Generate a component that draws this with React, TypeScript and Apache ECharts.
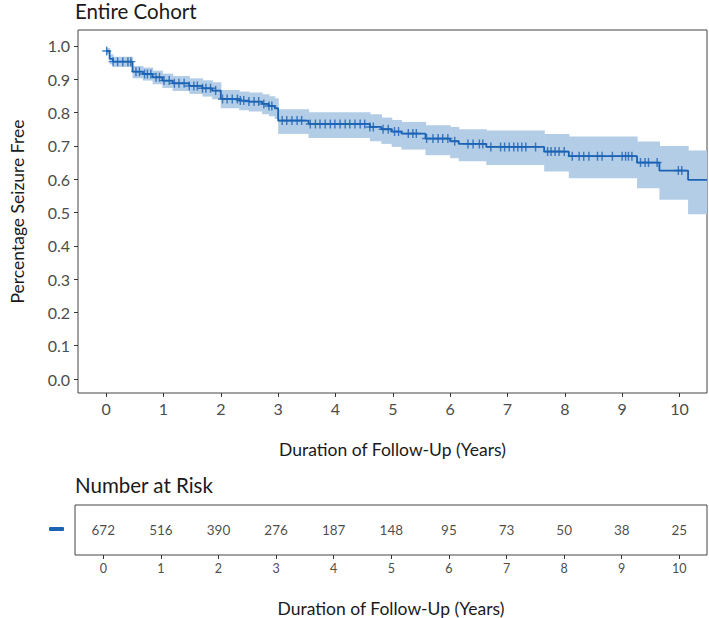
import React, { useEffect, useRef } from "react";
import * as echarts from "echarts";

// Kaplan-Meier step estimates (time in years)
const stepTimes = [0, 0.06, 0.12, 0.46, 0.64, 0.81, 0.98, 1.16, 1.45, 1.68, 1.85, 2.0, 2.32, 2.49, 2.72, 2.84, 2.94, 3.0, 3.53, 4.6, 4.8, 4.98, 5.15, 5.57, 6.0, 6.15, 6.63, 7.64, 8.07, 9.26, 9.65, 10.15];
const survival = [0.985, 0.961, 0.953, 0.923, 0.916, 0.906, 0.896, 0.888, 0.88, 0.873, 0.866, 0.841, 0.836, 0.833, 0.826, 0.82, 0.813, 0.776, 0.766, 0.757, 0.75, 0.743, 0.737, 0.722, 0.714, 0.706, 0.697, 0.683, 0.669, 0.65, 0.626, 0.598];
const lowerCI = [0.976, 0.945, 0.937, 0.903, 0.896, 0.885, 0.874, 0.865, 0.856, 0.848, 0.84, 0.813, 0.807, 0.803, 0.795, 0.789, 0.781, 0.736, 0.724, 0.714, 0.706, 0.697, 0.689, 0.672, 0.663, 0.654, 0.643, 0.623, 0.603, 0.573, 0.538, 0.495];
const upperCI = [0.994, 0.975, 0.968, 0.94, 0.935, 0.926, 0.917, 0.91, 0.903, 0.897, 0.891, 0.868, 0.863, 0.86, 0.855, 0.849, 0.843, 0.81, 0.801, 0.795, 0.785, 0.778, 0.772, 0.762, 0.757, 0.75, 0.746, 0.736, 0.728, 0.713, 0.7, 0.686];

// Censoring times
const censorTimes = [0.01, 0.12, 0.2, 0.29, 0.38, 0.43, 0.52, 0.58, 0.67, 0.72, 0.78, 0.87, 0.93, 1.01, 1.1, 1.19, 1.27, 1.36, 1.45, 1.53, 1.59, 1.68, 1.74, 1.82, 1.91, 2.03, 2.11, 2.2, 2.29, 2.34, 2.4, 2.49, 2.58, 2.66, 2.75, 2.84, 2.89, 3.07, 3.15, 3.24, 3.33, 3.41, 3.56, 3.65, 3.73, 3.82, 3.91, 3.99, 4.08, 4.17, 4.25, 4.34, 4.43, 4.51, 4.6, 4.66, 4.83, 4.92, 5.03, 5.1, 5.27, 5.35, 5.41, 5.59, 5.7, 5.79, 5.87, 5.96, 6.08, 6.31, 6.4, 6.51, 6.57, 6.71, 6.88, 6.95, 7.03, 7.11, 7.18, 7.25, 7.32, 7.49, 7.7, 7.76, 7.83, 7.9, 7.99, 8.13, 8.25, 8.33, 8.42, 8.57, 8.65, 8.83, 9.0, 9.06, 9.11, 9.17, 9.32, 9.4, 9.46, 9.61, 9.98, 10.04];

// Number at risk table
const riskTimes = [0, 1, 2, 3, 4, 5, 6, 7, 8, 9, 10];
const riskCounts = [672, 516, 390, 276, 187, 148, 95, 73, 50, 38, 25];

// Axis ticks
const xTicks = [0, 1, 2, 3, 4, 5, 6, 7, 8, 9, 10];
const yTicks = [0, 0.1, 0.2, 0.3, 0.4, 0.5, 0.6, 0.7, 0.8, 0.9, 1.0];

const X_MIN = -0.491;
const X_MAX = 10.48;
const Y_MIN = -0.042;
const Y_MAX = 1.048;

const LINE = "#1b63b4";
const BAND = "#b4cde6";
const FONT = "Lato";

function survAt(t: number): number {
  let s = survival[0];
  for (let i = 0; i < stepTimes.length; i++) {
    if (stepTimes[i] <= t) s = survival[i];
  }
  return s;
}

const PLUS = "path://M4.2,0 H5.8 V4.2 H10 V5.8 H5.8 V10 H4.2 V5.8 H0 V4.2 H4.2 Z";

export default function App() {
  const ref = useRef<HTMLDivElement>(null);
  useEffect(() => {
    if (!ref.current) return;
    const chart = echarts.init(ref.current, undefined, { renderer: "svg" });
    const n = stepTimes.length;
    const ends = [...stepTimes.slice(1), X_MAX];
    const bandRows = stepTimes.map((t, i) => [t, ends[i], lowerCI[i], upperCI[i]]);
    const lineData = [...stepTimes.map((t, i) => [t, survival[i]]), [X_MAX, survival[n - 1]]];

    const axisLabelBase = { color: "#4d4d4d", fontFamily: FONT };
    const titleStyle = { fontSize: 20.5, fontWeight: "normal", color: "#1a1a1a", fontFamily: FONT };
    const nameStyle = { fontSize: 17.5, color: "#1a1a1a", fontFamily: FONT };
    const noLine = { show: false, onZero: false };

    chart.setOption({
      animation: false,
      textStyle: { fontFamily: FONT },
      title: [
        { text: "Entire Cohort", left: 75, top: 0, padding: 0, textStyle: titleStyle },
        { text: "Number at Risk", left: 75, top: 474, padding: 0, textStyle: titleStyle },
      ],
      grid: [
        { left: 75, top: 30, width: 632, height: 363, show: true, borderColor: "#444", borderWidth: 1, backgroundColor: "#fff" },
        { left: 75, top: 505, width: 632, height: 50, show: true, borderColor: "#444", borderWidth: 1, backgroundColor: "#fff" },
      ],
      xAxis: [
        {
          type: "value", gridIndex: 0, min: X_MIN, max: X_MAX, position: "bottom",
          axisLine: noLine,
          splitLine: { show: false },
          axisTick: { show: true, length: 4, lineStyle: { color: "#333" }, customValues: xTicks },
          axisLabel: { ...axisLabelBase, fontSize: 16, margin: 7, customValues: xTicks, formatter: (v: number) => String(v) },
          name: "Duration of Follow-Up (Years)", nameLocation: "middle", nameGap: 47,
          nameTextStyle: nameStyle,
        },
        {
          type: "value", gridIndex: 1, min: X_MIN, max: X_MAX, position: "bottom",
          axisLine: noLine,
          splitLine: { show: false },
          axisTick: { show: true, length: 4, lineStyle: { color: "#333" }, customValues: xTicks },
          axisLabel: { ...axisLabelBase, fontSize: 12.5, margin: 7, customValues: xTicks, formatter: (v: number) => String(v) },
          name: "Duration of Follow-Up (Years)", nameLocation: "middle", nameGap: 44,
          nameTextStyle: nameStyle,
        },
      ],
      yAxis: [
        {
          type: "value", gridIndex: 0, min: Y_MIN, max: Y_MAX, position: "left",
          axisLine: noLine,
          splitLine: { show: false },
          axisTick: { show: true, length: 4, lineStyle: { color: "#333" }, customValues: yTicks },
          axisLabel: { ...axisLabelBase, fontSize: 16, margin: 8, customValues: yTicks, formatter: (v: number) => v.toFixed(1) },
          name: "Percentage Seizure Free", nameLocation: "middle", nameGap: 52, nameRotate: 90,
          nameTextStyle: nameStyle,
        },
        {
          type: "value", gridIndex: 1, min: 0, max: 1, position: "left",
          axisLine: noLine, splitLine: { show: false },
          axisTick: { show: false }, axisLabel: { show: false },
        },
      ],
      graphic: [
        { type: "rect", left: 49, top: 527, shape: { width: 15, height: 4, r: 1 }, style: { fill: LINE } },
      ],
      series: [
        {
          name: "ci", type: "custom", xAxisIndex: 0, yAxisIndex: 0, silent: true, z: 1,
          clip: true,
          data: bandRows,
          renderItem: (params: any, api: any) => {
            const p0 = api.coord([api.value(0), api.value(3)]);
            const p1 = api.coord([api.value(1), api.value(2)]);
            const isLast = params.dataIndex === n - 1;
            return {
              type: "rect",
              shape: { x: p0[0], y: p0[1], width: p1[0] - p0[0] + (isLast ? 0 : 0.6), height: p1[1] - p0[1] },
              style: { fill: BAND },
            };
          },
        },
        {
          name: "survival", type: "line", xAxisIndex: 0, yAxisIndex: 0, step: "end", z: 3,
          symbol: "none", lineStyle: { width: 1.8, color: LINE },
          data: lineData,
        },
        {
          name: "censor", type: "scatter", xAxisIndex: 0, yAxisIndex: 0, z: 4,
          symbol: PLUS, symbolSize: 9, itemStyle: { color: LINE },
          data: censorTimes.map((t) => [t, survAt(t)]),
        },
        {
          name: "risk", type: "scatter", xAxisIndex: 1, yAxisIndex: 1,
          symbolSize: 1, itemStyle: { color: "rgba(0,0,0,0)" },
          label: { show: true, position: "inside", fontSize: 13.5, color: "#1a1a1a", fontFamily: FONT, formatter: (p: any) => String(p.value[2]) },
          data: riskTimes.map((t, i) => [t, 0.5, riskCounts[i]]),
        },
      ],
    });
    return () => chart.dispose();
  }, []);
  return <div ref={ref} style={{ position: "absolute", left: 0, top: 0, width: 709, height: 618 }} />;
}
